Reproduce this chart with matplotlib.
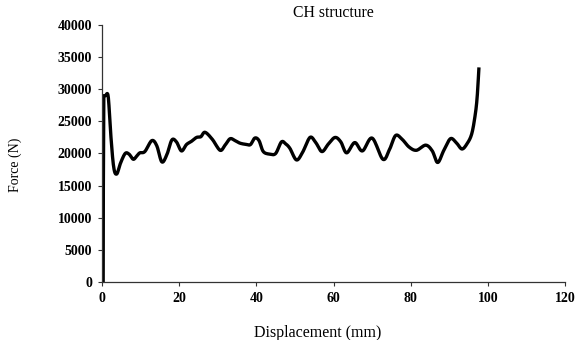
import numpy as np
import matplotlib
matplotlib.use("Agg")
import matplotlib.pyplot as plt

# Displacement (mm) and Force (N)
displacement = [0.3, 0.35, 0.45, 0.9, 1.6, 2.2, 3.0, 3.8, 4.8, 6.0, 7.0, 8.1, 9.0, 9.8, 11.1,
                12.9, 14.2, 15.5, 16.8, 18.1, 19.3, 20.6, 21.9, 23.2, 24.5, 25.6, 26.7,
                28.6, 30.6, 31.9, 33.2, 34.5, 35.8, 37.5, 38.5, 39.6, 40.7, 41.8, 43.5, 45.0,
                46.5, 47.6, 48.7, 50.4, 52.0, 53.9, 55.4, 57.0, 58.7, 60.4, 61.9, 63.4,
                65.5, 67.5, 70.0, 72.8, 74.5, 76.1, 77.8, 79.6, 81.5, 83.9, 85.6, 87.0,
                88.6, 90.3, 91.8, 93.3, 94.7, 95.8, 96.6, 97.2, 97.7]
force = [0, 15000, 29000, 29000, 28900, 23500, 18000, 16800, 18500, 20000, 19900, 19100, 19600, 20100, 20300,
         22000, 21200, 18700, 19800, 22100, 21800, 20400, 21400, 21900, 22500, 22600, 23300,
         22200, 20500, 21300, 22300, 22000, 21600, 21400, 21400, 22400, 22000, 20300, 19900, 20000,
         21800, 21500, 20800, 19000, 20200, 22500, 21700, 20300, 21500, 22500, 21800, 20100,
         21700, 20400, 22400, 19100, 20600, 22800, 22200, 21000, 20500, 21300, 20400, 18600,
         20500, 22300, 21700, 20700, 21600, 23000, 25500, 28500, 33400]

x_ticks = [0, 20, 40, 60, 80, 100, 120]
y_ticks = [0, 5000, 10000, 15000, 20000, 25000, 30000, 35000, 40000]

def catmull(xs, ys, n=12):
    xs = np.asarray(xs, float); ys = np.asarray(ys, float)
    px = np.concatenate([[xs[0]], xs, [xs[-1]]])
    py = np.concatenate([[ys[0]], ys, [ys[-1]]])
    ox, oy = [], []
    for i in range(1, len(px) - 2):
        t = np.linspace(0, 1, n, endpoint=False)
        p0, p1, p2, p3 = px[i-1], px[i], px[i+1], px[i+2]
        q0, q1, q2, q3 = py[i-1], py[i], py[i+1], py[i+2]
        def cr(a0, a1, a2, a3):
            return 0.5 * ((2*a1) + (-a0 + a2)*t + (2*a0 - 5*a1 + 4*a2 - a3)*t**2 + (-a0 + 3*a1 - 3*a2 + a3)*t**3)
        ox.append(cr(p0, p1, p2, p3)); oy.append(cr(q0, q1, q2, q3))
    ox.append([xs[-1]]); oy.append([ys[-1]])
    return np.concatenate(ox), np.concatenate(oy)

sx, sy = catmull(displacement[2:], force[2:])
sx = np.concatenate([displacement[:2], sx])
sy = np.concatenate([force[:2], sy])

plt.rcParams['font.family'] = ['Liberation Serif', 'DejaVu Serif']
fig = plt.figure(figsize=(5.75, 3.4), dpi=100)
ax = fig.add_axes([0.1774, 0.1706, 0.8052, 0.7559])
ax.plot(sx, sy, color='black', lw=2.4, solid_joinstyle='round', solid_capstyle='butt')
ax.set_xlim(0, 120)
ax.set_ylim(0, 40000)
ax.set_xticks(x_ticks)
ax.set_yticks(y_ticks)
ax.set_xticklabels([str(v) for v in x_ticks], fontweight='bold', fontsize=10)
ax.set_yticklabels([str(v) for v in y_ticks], fontweight='bold', fontsize=10)
for s in ['top', 'right']:
    ax.spines[s].set_visible(False)
for s in ['left', 'bottom']:
    ax.spines[s].set_color('#333333')
    ax.spines[s].set_linewidth(0.9)
ax.tick_params(direction='out', length=3, width=0.8, color='#333333', pad=4)
ax.set_title('CH structure', fontsize=11.3, pad=6)
ax.set_xlabel('Displacement (mm)', fontsize=11.5)
ax.xaxis.set_label_coords(0.466, -0.168)
ax.set_ylabel('Force (N)', fontsize=10)
ax.yaxis.set_label_coords(-0.172, 0.455)
fig.savefig('out.png', dpi=100)
